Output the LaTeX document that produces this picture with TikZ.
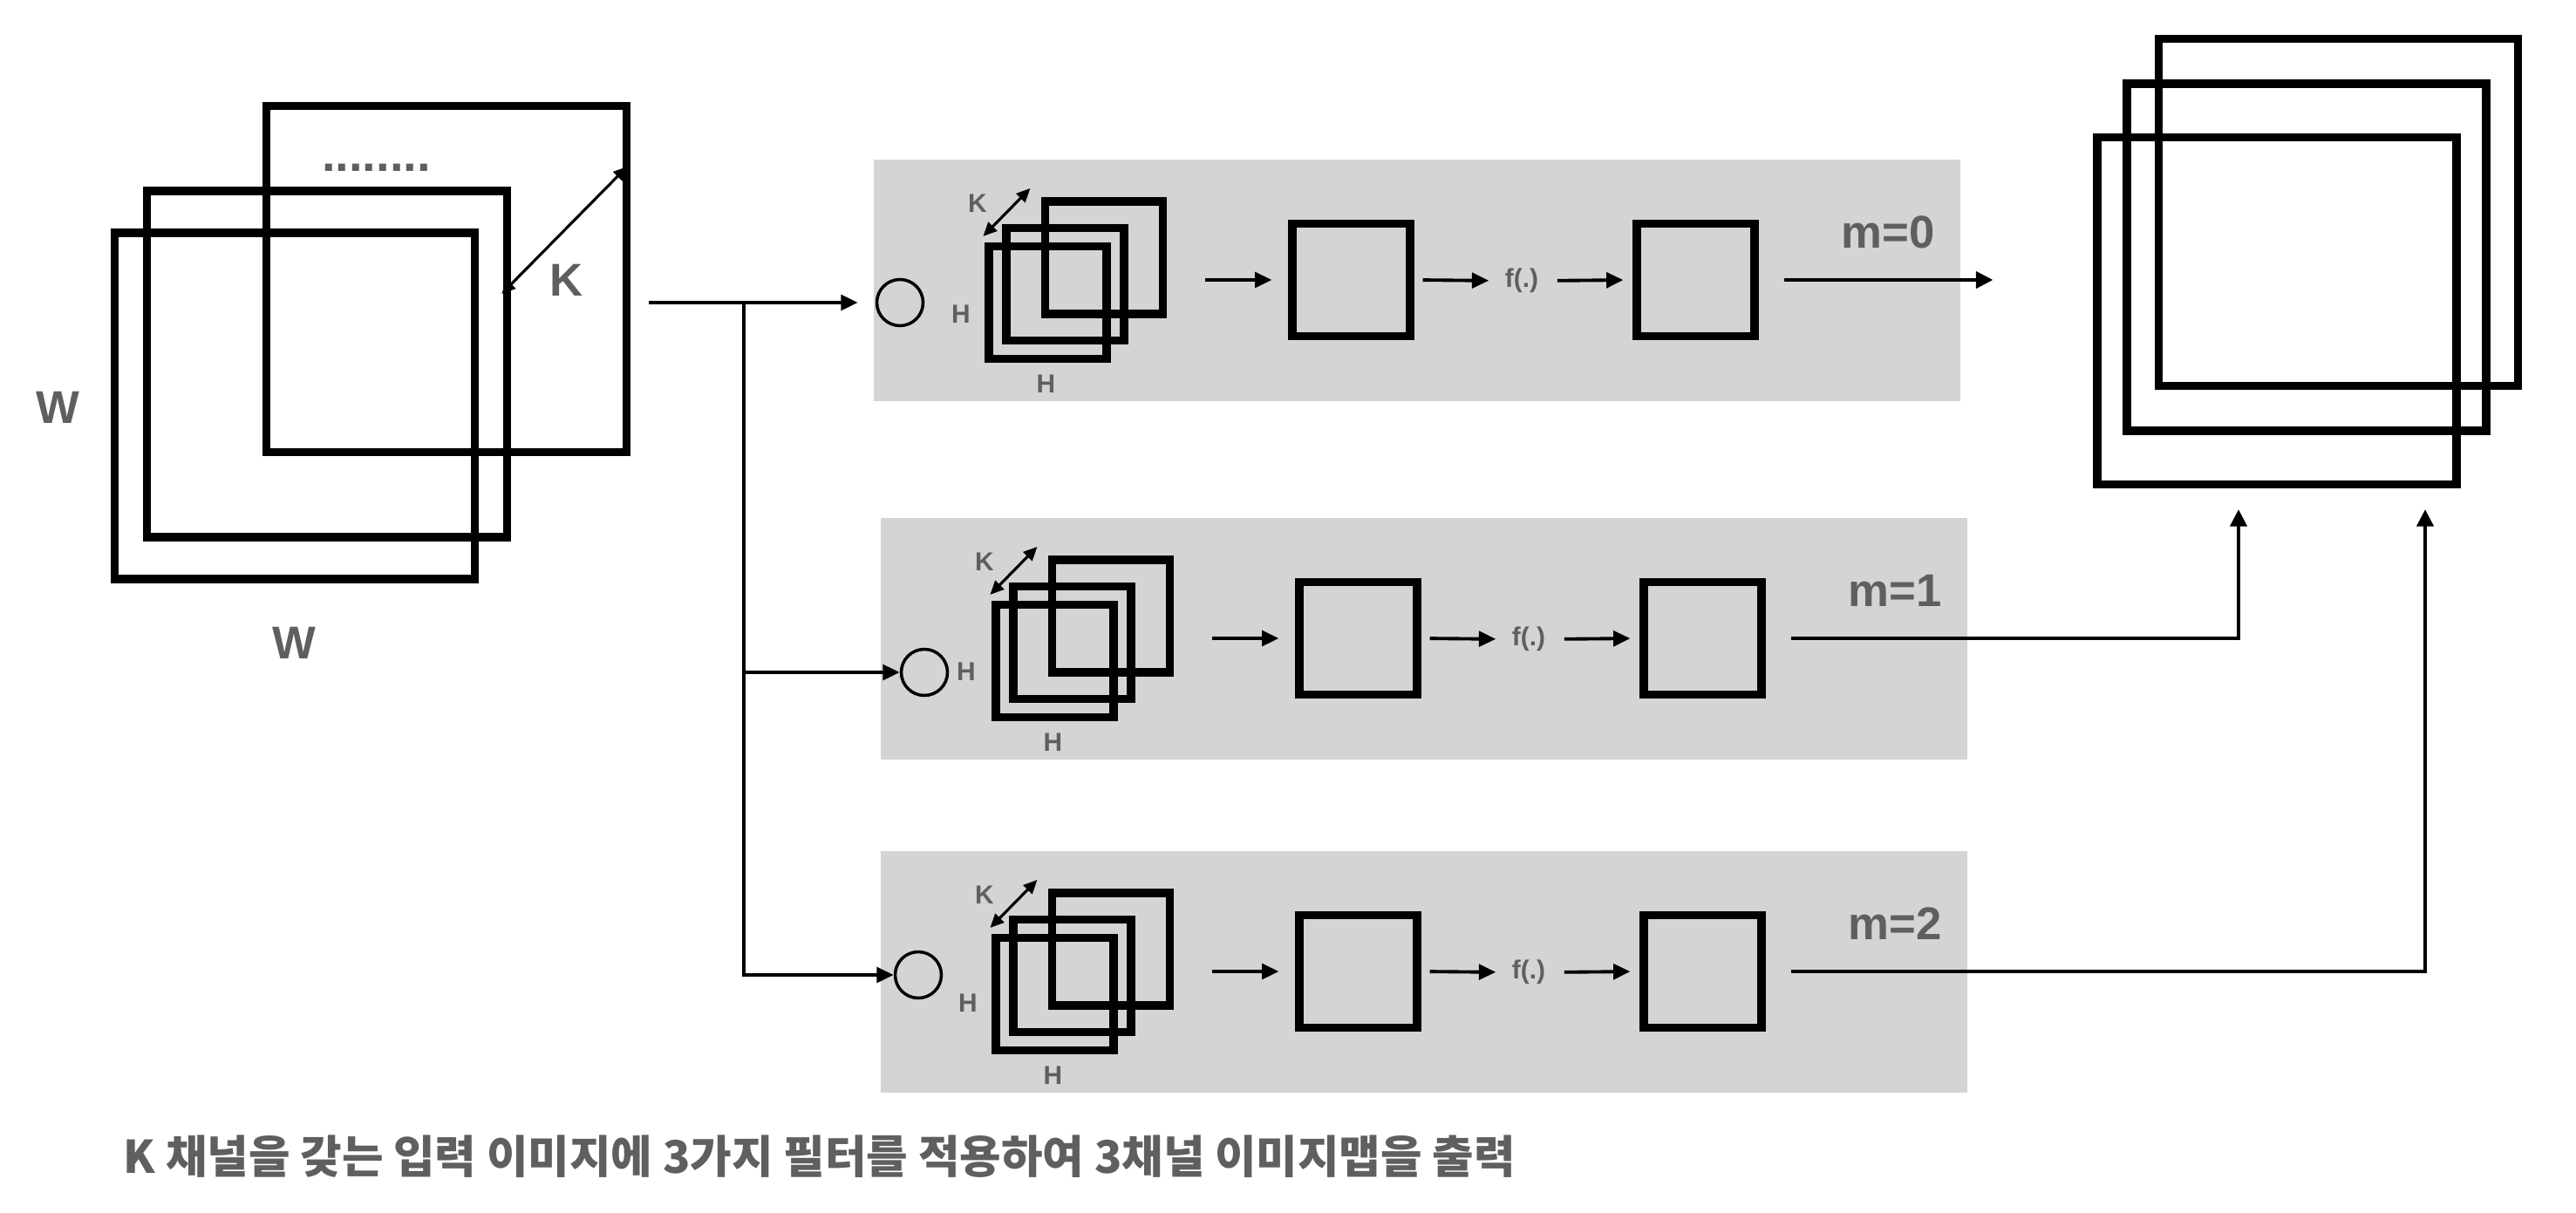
\documentclass[tikz,border=0pt]{standalone}
\usepackage{fontspec}
\setmainfont{Liberation Sans}
\newfontfamily\krfont{Noto Sans CJK KR}
\usetikzlibrary{arrows.meta}

\definecolor{txtgray}{HTML}{5F5F5F}
\definecolor{panelgray}{HTML}{D4D4D4}

\begin{document}
\begin{tikzpicture}[
  fmap/.style={draw, line width=2.7pt, minimum width=4.13cm, minimum height=3.97cm, inner sep=0pt},
  omap/.style={fmap, minimum width=4.12cm, minimum height=3.98cm},
  kmap/.style={draw, line width=2.6pt, minimum width=1.35cm, minimum height=1.29cm, inner sep=0pt},
  ring/.style={draw, circle, line width=1pt, minimum size=0.53cm, inner sep=0pt},
  flow/.style={line width=1.1pt, -{Triangle[length=5.5pt,width=5pt]}},
  outflow/.style={line width=0.9pt, -{Triangle[length=5.5pt,width=5.5pt]}},
  dim/.style={line width=0.9pt, {Triangle[length=4.5pt,width=4pt]}-{Triangle[length=4.5pt,width=4pt]}},
  big/.style={text=txtgray, font=\fontsize{15}{18}\selectfont\bfseries},
  small/.style={text=txtgray, font=\fontsize{8.5}{10}\selectfont\bfseries},
]
  \useasboundingbox (0,0) rectangle (29.54,13.90);

  \node[fmap] (inB) at (5.12,10.70) {};
  \node[fmap] (inM) at (3.75,9.725) {};
  \node[fmap] (inF) at (3.38,9.245) {};
  \node[text=txtgray, font=\fontsize{16}{18}\selectfont\bfseries] (dots) at (4.315,11.98) {........};
  \draw[dim] ([shift={(-0.04,1.29)}]inB.east) -- ([shift={(-0.11,0.805)}]inM.east);
  \node[big] (kin) at (6.50,10.69) {K};
  \node[big] (wl) at (0.66,9.23) {W};
  \node[big] (wb) at (3.37,6.53) {W};

  \foreach \i/\m/\px/\py/\cx/\cy/\hx/\hy in {1/0/10.02/12.07/0.30/-1.64/1.00/-1.77,
      2/1/10.10/7.96/0.50/-1.77/0.98/-1.76, 3/2/10.10/4.14/0.43/-1.42/1.00/-1.74} {
    \begin{scope}[shift={(\px,\py)}]
      \fill[panelgray] (0,0) rectangle (12.46,-2.77);
      \node[ring] (c\i) at (\cx,\cy) {};
      \node[small] (h\i) at (\hx,\hy) {H};
      \node[kmap] (s\i) at (2.64,-1.125) {};
      \node[kmap] (u\i) at (2.195,-1.43) {};
      \node[kmap] (t\i) at (1.995,-1.64) {};
      \draw[dim] ([shift={(-0.02,0.07)}]t\i.north west) -- ([shift={(0.52,0.62)}]t\i.north west);
      \node[small] (k\i) at (1.19,-0.50) {K};
      \node[small] (hb\i) at (1.975,-2.575) {H};
      \node[kmap] (p\i) at (5.475,-1.38) {};
      \node[small, inner sep=0pt] (f\i) at (7.43,-1.39) {f(.)};
      \node[kmap] (q\i) at (9.425,-1.38) {};
      \node[big] (m\i) at (11.63,-0.83) {m=\m};
      \draw[flow, shorten <=0.44cm, shorten >=0.19cm] (s\i.east |- p\i.west) -- (p\i.west);
      \draw[flow, shorten <=0.10cm, shorten >=0.18cm] (p\i.east) -- (f\i.west);
      \draw[flow, shorten <=0.21cm, shorten >=0.11cm] (f\i.east) -- (q\i.west);
    \end{scope}
  }

  \node[omap] (oB) at (26.815,11.465) {};
  \node[omap] (oM) at (26.45,10.95) {};
  \node[omap] (oF) at (26.11,10.335) {};

  \draw[flow, shorten <=0.21cm, shorten >=0.20cm] (inB.east |- c1.west) -- (c1.west);
  \path (c1) ++(-1.79,0) coordinate (sp);
  \draw[flow] (sp) |- (c2.west);
  \draw[flow] (sp) |- (c3.west);

  \draw[outflow, shorten <=0.29cm, shorten >=1.15cm] (q1.east) -- (q1.east -| oF.west);
  \draw[outflow, shorten <=0.29cm, shorten >=0.24cm] (q2.east) -| ([xshift=-0.44cm]oF.south);
  \draw[outflow, shorten <=0.29cm, shorten >=0.24cm] (q3.east) -| ([xshift=1.70cm]oF.south);

  \node[anchor=west, inner sep=0pt, text=txtgray, font=\krfont\bfseries\fontsize{14.7}{17}\selectfont] (cap) at (1.41,0.64)
    {K 채널을 갖는 입력 이미지에 3가지 필터를 적용하여 3채널 이미지맵을 출력};
\end{tikzpicture}
\end{document}
